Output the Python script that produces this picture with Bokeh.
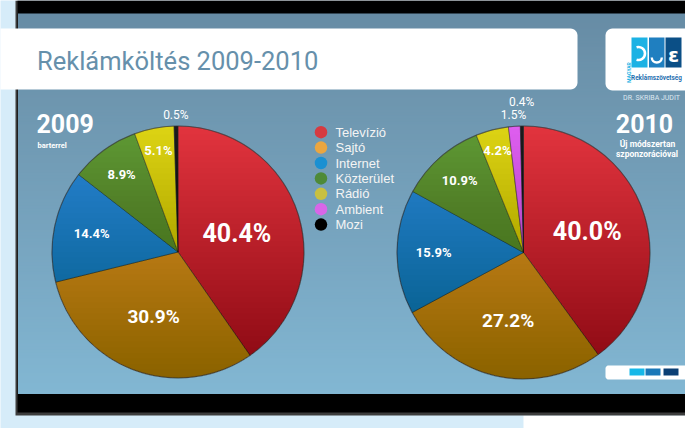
import numpy as np
from bokeh.plotting import figure
from bokeh.models import Range1d, ColumnDataSource
from bokeh.core.properties import value, field
from bokeh.embed import file_html
from bokeh.resources import INLINE

# ---------------- data ----------------
categories = ["Televízió", "Sajtó", "Internet", "Közterület", "Rádió", "Ambient", "Mozi"]
share_2009 = [40.4, 30.9, 14.4, 8.9, 5.1, 0.0, 0.5]
share_2010 = [40.0, 27.2, 15.9, 10.9, 4.2, 1.5, 0.4]
title_text = "Reklámköltés 2009-2010"
year_2009 = "2009"
note_2009 = ["barterrel"]
year_2010 = "2010"
note_2010 = ["Új módszertan", "szponzorációval"]
author = "DR. SKRIBA JUDIT"
logo_text = "Reklámszövetség"
logo_small = "MAGYAR"

# ---------------- styles ----------------
slice_colors = ["#e2343e", "#e49e2a", "#2b8bd8", "#5f9b35", "#ddd414", "#df5ef0", "#1c1c1c"]
legend_colors = ["#d63a40", "#eba640", "#1a90d2", "#4e8a38", "#c8c040", "#d866e8", "#000000"]
label_rfac_2009 = [0.49, 0.55, 0.70, 0.76, 0.82, 1.09, 1.09]
label_rfac_2010 = [0.53, 0.55, 0.71, 0.76, 0.83, 1.09, 1.19]
label_sizes = ["25px", "19px", "13px", "13px", "13px", "12px", "12px"]
label_styles = ["bold", "bold", "bold", "bold", "bold", "normal", "normal"]

W_REF, H_REF = 685, 428


def Y(y):
    return H_REF - y


p = figure(width=W_REF, height=H_REF,
           x_range=Range1d(0, W_REF), y_range=Range1d(0, H_REF),
           output_backend="svg", toolbar_location=None, min_border=0,
           outline_line_color=None, background_fill_color="#d6ecf9",
           border_fill_color="#d6ecf9")
p.axis.visible = False
p.grid.visible = False


def rrect(x0, y0, x1, y1, r, n=8):
    """rounded rectangle polygon, reference coords (y down)."""
    yt, yb = Y(y0), Y(y1)
    pts = []
    for (cx, cy, a0) in [(x1 - r, yb + r, 1.5 * np.pi), (x1 - r, yt - r, 0.0),
                         (x0 + r, yt - r, 0.5 * np.pi), (x0 + r, yb + r, np.pi)]:
        t = np.linspace(a0, a0 + 0.5 * np.pi, n)
        pts += list(zip(cx + r * np.cos(t), cy + r * np.sin(t)))
    xs, ys = zip(*pts)
    return list(xs), list(ys)


# ---------------- frame ----------------
p.quad(left=523, right=W_REF, top=Y(415), bottom=Y(H_REF), fill_color="white", line_color=None)
p.quad(left=15, right=W_REF, top=Y(0), bottom=Y(415), fill_color="#3c3c3c", line_color=None)
p.quad(left=17, right=W_REF, top=Y(0), bottom=Y(412), fill_color="#000000", line_color=None)

# slide gradient background
stops_y = [13, 100, 250, 393]
stops_c = [(0x67, 0x8c, 0xa5), (0x6e, 0x96, 0xaf), (0x78, 0xa6, 0xc1), (0x82, 0xb7, 0xd3)]
band_tops = list(range(13, 393, 3))
band_cols = []
for yy in band_tops:
    rgb = [int(round(np.interp(yy, stops_y, [c[k] for c in stops_c]))) for k in range(3)]
    band_cols.append("#%02x%02x%02x" % tuple(rgb))
p.quad(left=[17.5] * len(band_tops), right=[W_REF] * len(band_tops),
       top=[Y(v) for v in band_tops], bottom=[Y(393)] * len(band_tops),
       fill_color=band_cols, line_color=None)

# title box
tx, ty = rrect(-20, 28, 577, 89, 7)
p.patch(tx, ty, fill_color="white", line_color=None)
p.text(x=[36.5], y=[Y(60)], text=[title_text], text_font=value("Roboto"),
       text_font_size="25.5px", text_color="#6690ab", text_align="left", text_baseline="middle")

# logo box
lx, ly = rrect(605, 28, 700, 90, 7)
p.patch(lx, ly, fill_color="white", line_color=None)
p.quad(left=[631, 648.5, 665], right=[647, 664, 681], top=[Y(37)] * 3, bottom=[Y(67)] * 3,
       fill_color=["#1cb2e4", "#1f7fc0", "#0b4f86"], line_color=None)
p.arc(x=[638], y=[Y(53)], radius=6.5, start_angle=-np.pi / 2 - 0.3, end_angle=np.pi / 2 + 0.3,
      line_color="white", line_width=2.6)
p.arc(x=[656.3], y=[Y(57)], radius=5, start_angle=np.pi, end_angle=2 * np.pi,
      direction="anticlock", line_color="white", line_width=2.4)
p.text(x=[673], y=[Y(54)], text=["ε"], text_font=value("DejaVu Sans"), text_font_style="bold",
       text_font_size="20px", text_color="white", text_align="center", text_baseline="middle")
p.text(x=[656], y=[Y(77.5)], text=[logo_text], text_font=value("Roboto"), text_font_style="bold",
       text_font_size="6.4px", text_color="#1f6fb0", text_align="center", text_baseline="middle")
p.text(x=[628.5], y=[Y(72)], text=[logo_small], text_font=value("Roboto"), text_font_style="bold",
       text_font_size="5px", text_color="#1cb2e4", text_align="center", text_baseline="middle",
       angle=np.pi / 2)
p.text(x=[651], y=[Y(97)], text=[author], text_font=value("Roboto"),
       text_font_size="7px", text_color="#dde7ef", text_align="center", text_baseline="middle")

# year captions
p.text(x=[36], y=[Y(123)], text=[year_2009], text_font=value("Roboto"), text_font_style="bold",
       text_font_size="25px", text_color="white", text_align="left", text_baseline="middle")
p.text(x=[37] * len(note_2009), y=[Y(144.5)], text=note_2009, text_font=value("Roboto"),
       text_font_style="bold", text_font_size="7.5px", text_color="white",
       text_align="left", text_baseline="middle")
p.text(x=[644], y=[Y(122.5)], text=[year_2010], text_font=value("Roboto"), text_font_style="bold",
       text_font_size="25px", text_color="white", text_align="center", text_baseline="middle")
p.text(x=[647, 646.5], y=[Y(143), Y(153.5)], text=note_2010, text_font=value("Roboto"),
       text_font_style="bold", text_font_size="8.5px", text_color="white",
       text_align="center", text_baseline="middle")


# ---------------- pies ----------------
def draw_pie(cx_ref, cy_ref, R, shares, rfac):
    cx, cy = cx_ref, Y(cy_ref)
    s = np.array(shares, dtype=float)
    frac = s / s.sum()
    cum = np.concatenate([[0.0], np.cumsum(frac)])
    start = np.pi / 2 - 2 * np.pi * cum[:-1]
    end = np.pi / 2 - 2 * np.pi * cum[1:]
    keep = s > 0
    src = ColumnDataSource(dict(start=start[keep], end=end[keep],
                                color=[c for c, k in zip(slice_colors, keep) if k]))
    p.wedge(x=cx, y=cy, radius=R, start_angle="start", end_angle="end", direction="clock",
            fill_color="color", line_color="#2a2a2a", line_alpha=0.55, line_width=0.8, source=src)
    # vertical shading: cumulative dark overlays
    n = 45
    a = 1 - (1 - 0.27) ** (1.0 / n)
    xs, ys = [], []
    for i in range(n):
        ycut = cy + R - (i + 0.5) * (2 * R / n)
        phi = np.arcsin(np.clip((ycut - cy) / R, -1, 1))
        t = np.linspace(np.pi - phi, 2 * np.pi + phi, 60)
        xs.append(cx + R * np.cos(t))
        ys.append(cy + R * np.sin(t))
    p.patches(xs, ys, fill_color="black", fill_alpha=a, line_color=None)
    p.circle(x=[cx], y=[cy], radius=R, fill_color=None, line_color="#3a3a3a",
             line_alpha=0.45, line_width=1.2)
    # labels
    mid = (start + end) / 2
    lab = ColumnDataSource(dict(
        x=[cx + rf * R * np.cos(m) for rf, m, k in zip(rfac, mid, keep) if k],
        y=[cy + rf * R * np.sin(m) for rf, m, k in zip(rfac, mid, keep) if k],
        text=["%.1f%%" % v for v, k in zip(s, keep) if k],
        size=[z for z, k in zip(label_sizes, keep) if k],
        style=[z for z, k in zip(label_styles, keep) if k],
    ))
    p.text(x="x", y="y", text="text", text_font=value("Roboto"), text_font_size=field("size"),
           text_font_style=field("style"), text_color="white", text_align="center",
           text_baseline="middle", source=lab)


draw_pie(177.5, 251.5, 126, share_2009, label_rfac_2009)
draw_pie(523, 252, 126.5, share_2010, label_rfac_2010)

# ---------------- legend ----------------
leg_y = [Y(131.7 + 15.4 * i) for i in range(len(categories))]
p.scatter(x=[320.5] * len(categories), y=leg_y, size=12.5, marker="circle",
          fill_color=legend_colors, line_color=None)
p.text(x=[335] * len(categories), y=leg_y, text=categories, text_font=value("Liberation Sans"),
       text_font_size="13px", text_color="#f4f4f4", text_align="left", text_baseline="middle")

# ---------------- bottom-right tab ----------------
bx, by = rrect(605, 365, 700, 379, 3)
p.patch(bx, by, fill_color="white", line_color=None)
p.quad(left=[629, 645, 663], right=[644, 660, 678], top=[Y(368)] * 3, bottom=[Y(375)] * 3,
       fill_color=["#16b8e8", "#1a78b8", "#0b3f74"], line_color=None)

open("out.html", "w").write(file_html(p, INLINE))
